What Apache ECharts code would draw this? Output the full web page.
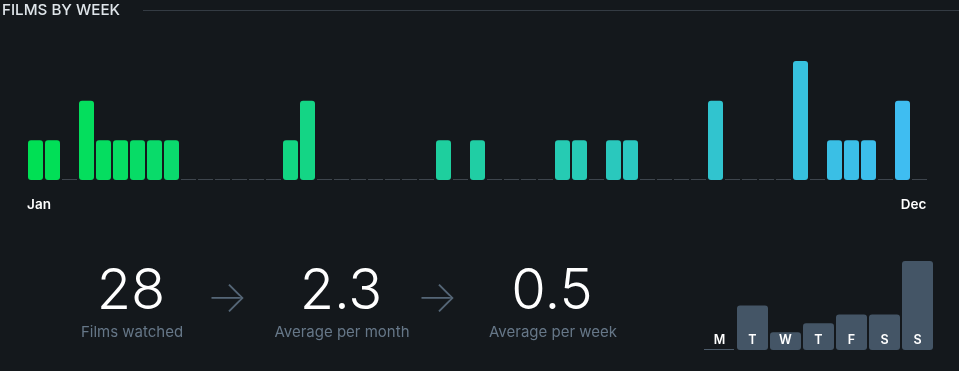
<!DOCTYPE html>
<html>
<head>
<meta charset="utf-8">
<script src="https://cdn.jsdelivr.net/npm/echarts@6/dist/echarts.min.js"></script>
<style>
html,body{margin:0;padding:0;background:#14181c;}
#c{width:959px;height:371px;}
</style>
</head>
<body>
<div id="c"></div>
<script>
// ---- data ----
const weekValues = [1,1,0,2,1,1,1,1,1,0,0,0,0,0,0,1,2,0,0,0,0,0,0,0,1,0,1,0,0,0,0,1,1,0,1,1,0,0,0,0,2,0,0,0,0,3,0,1,1,1,0,2,0];
const weekLabels = weekValues.map((v, i) => i === 0 ? 'Jan' : (i === weekValues.length - 1 ? 'Dec' : ''));
const dayLabels = ['M','T','W','T','F','S','S'];
const dayValues = [0,5,2,3,4,4,10];
const statValues = ['28','2.3','0.5'];
const statLabels = ['Films watched','Average per month','Average per week'];
const titleText = 'FILMS BY WEEK';

// ---- colours ----
const c0 = [0x00,0xe0,0x54], c1 = [0x40,0xbc,0xf4];
function weekColor(i){
  const t = i/(weekValues.length-1);
  const c = c0.map((a,k)=>Math.round(a+(c1[k]-a)*t));
  return 'rgb('+c.join(',')+')';
}

const FONT = 'Inter, "Noto Sans", sans-serif';
const chart = echarts.init(document.getElementById('c'), null, {renderer:'canvas'});

const statX = [131, 341, 552];
const graphic = [
  {type:'text', left:2, top:3, style:{text:titleText, fill:'#dfe5ea', font:'500 15.2px '+FONT}},
  {type:'line', shape:{x1:143,y1:10.5,x2:959,y2:10.5}, style:{stroke:'#343b43', lineWidth:1}}
];
statValues.forEach((v,i)=>{
  graphic.push({type:'text', x:statX[i], y:292, style:{text:v, fill:'#ffffff', font:'300 56px '+FONT, textAlign:'center', textVerticalAlign:'middle'}});
  graphic.push({type:'text', x:statX[i]+1, y:332.5, style:{text:statLabels[i], fill:'#667788', font:'400 15px '+FONT, textAlign:'center', textVerticalAlign:'middle'}});
});
[227, 437].forEach(x=>{
  graphic.push({type:'text', x:x, y:299, style:{text:'→', fill:'#556677', font:'200 44px '+FONT, textAlign:'center', textVerticalAlign:'middle'}});
});

const option = {
  backgroundColor:'#14181c',
  animation:false,
  grid:[
    {left:27, top:61, width:901, height:119},
    {left:703, top:261, width:231, height:89}
  ],
  xAxis:[
    {type:'category', gridIndex:0, data:weekLabels, boundaryGap:true,
     axisLine:{show:false}, axisTick:{show:false},
     axisLabel:{interval:0, margin:18, formatter:(v,i)=> v==='' ? '' : (i===0 ? '{a|'+v+'}' : '{b|'+v+'}'),
       rich:{a:{color:'#ffffff', fontFamily:FONT, fontWeight:600, fontSize:13.5, padding:[0,0,0,7]},
             b:{color:'#ffffff', fontFamily:FONT, fontWeight:600, fontSize:13.5, padding:[0,12,0,0]}}}},
    {type:'category', gridIndex:1, data:dayLabels, boundaryGap:true,
     axisLine:{show:false}, axisTick:{show:false},
     axisLabel:{inside:true, interval:0, margin:3, color:'#ffffff', fontFamily:FONT, fontWeight:600, fontSize:12.5}, z:10}
  ],
  yAxis:[
    {type:'value', gridIndex:0, min:0, max:3, show:false, splitLine:{show:false}},
    {type:'value', gridIndex:1, min:0, max:10, show:false, splitLine:{show:false}}
  ],
  series:[
    {type:'bar', xAxisIndex:0, yAxisIndex:0, barWidth:15, barGap:'-100%', silent:true,
     barMinHeight:1,
     data: weekValues.map(v=> v===0 ? 0 : '-'),
     itemStyle:{color:'#3e454d'}},
    {type:'bar', xAxisIndex:0, yAxisIndex:0, barWidth:15, barGap:'-100%',
     data: weekValues.map((v,i)=> v===0 ? '-' : {value:v, itemStyle:{color:weekColor(i)}}),
     itemStyle:{borderRadius:3}},
    {type:'bar', xAxisIndex:1, yAxisIndex:1, barWidth:30, barGap:'-100%', silent:true,
     barMinHeight:1,
     data: dayValues.map(v=> v===0 ? 0 : '-'),
     itemStyle:{color:'#4d5b69'}},
    {type:'bar', xAxisIndex:1, yAxisIndex:1, barWidth:31, barGap:'-100%',
     data: dayValues.map(v=> v===0 ? '-' : v),
     itemStyle:{color:'#445566', borderRadius:3}}
  ],
  graphic: graphic
};
chart.setOption(option);
</script>
</body>
</html>
